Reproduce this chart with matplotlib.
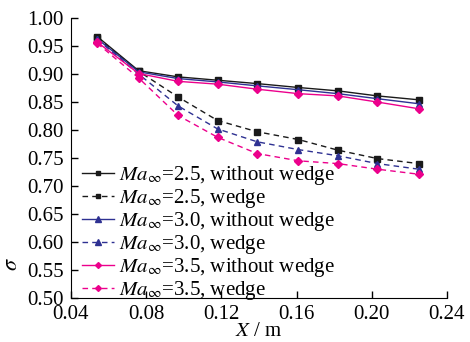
import matplotlib
matplotlib.use("Agg")
import matplotlib.pyplot as plt

plt.rcParams["font.family"] = ["Liberation Serif", "DejaVu Serif"]
plt.rcParams["mathtext.fontset"] = "stix"

x = [0.054, 0.076, 0.097, 0.118, 0.139, 0.161, 0.182, 0.203, 0.225]

ma25_no = [0.967, 0.906, 0.895, 0.889, 0.883, 0.876, 0.870, 0.861, 0.854]
ma25_wedge = [0.965, 0.905, 0.859, 0.817, 0.797, 0.783, 0.764, 0.749, 0.740]
ma30_no = [0.963, 0.904, 0.892, 0.886, 0.879, 0.872, 0.865, 0.856, 0.847]
ma30_wedge = [0.962, 0.900, 0.843, 0.802, 0.779, 0.765, 0.754, 0.740, 0.730]
ma35_no = [0.957, 0.901, 0.887, 0.882, 0.873, 0.865, 0.861, 0.850, 0.838]
ma35_wedge = [0.955, 0.893, 0.826, 0.787, 0.758, 0.745, 0.740, 0.730, 0.721]

labels = [
    r"$Ma_\infty$=2.5, without wedge",
    r"$Ma_\infty$=2.5, wedge",
    r"$Ma_\infty$=3.0, without wedge",
    r"$Ma_\infty$=3.0, wedge",
    r"$Ma_\infty$=3.5, without wedge",
    r"$Ma_\infty$=3.5, wedge",
]

black = "#1a1a1a"
blue = "#2e3192"
pink = "#ec008c"

fig = plt.figure(figsize=(4.7, 3.42), dpi=100)
ax = fig.add_axes([0.151, 0.129, 0.80, 0.818])

series = [
    (ma25_no, black, "-", "s", 4.5),
    (ma25_wedge, black, "--", "s", 4.5),
    (ma30_no, blue, "-", "^", 5),
    (ma30_wedge, blue, "--", "^", 5),
    (ma35_no, pink, "-", "D", 4),
    (ma35_wedge, pink, "--", "D", 4),
]
for (y, c, ls, m, ms), lab in zip(series, labels):
    ax.plot(x, y, color=c, ls=ls, lw=1.0, marker=m, ms=ms, label=lab,
            dashes=(4, 3) if ls == "--" else (None, None))

ax.set_xlim(0.04, 0.24)
ax.set_ylim(0.50, 1.00)
ax.set_xticks([0.04, 0.08, 0.12, 0.16, 0.20, 0.24])
ax.set_xticklabels(["0.04", "0.08", "0.12", "0.16", "0.20", "0.24"])
ax.set_yticks([0.50, 0.55, 0.60, 0.65, 0.70, 0.75, 0.80, 0.85, 0.90, 0.95, 1.00])
ax.set_yticklabels(["%.2f" % v for v in ax.get_yticks()])
ax.tick_params(direction="in", length=5, width=1, labelsize=15)
ax.tick_params(axis="x", pad=5)
ax.tick_params(axis="y", pad=5)
ax.spines["top"].set_visible(False)
ax.spines["right"].set_visible(False)

ax.set_xlabel(r"$X$ / m", fontsize=15, labelpad=-1)
ax.set_ylabel(r"$\sigma$", fontsize=16)
ax.yaxis.set_label_coords(-0.13, 0.12)

leg = ax.legend(loc="lower left", bbox_to_anchor=(-0.003, -0.06), frameon=False,
                fontsize=15, handlelength=1.5, handletextpad=0.25,
                labelspacing=0.0, borderaxespad=0.2, markerscale=0.75)

fig.savefig("out.png", dpi=100)
